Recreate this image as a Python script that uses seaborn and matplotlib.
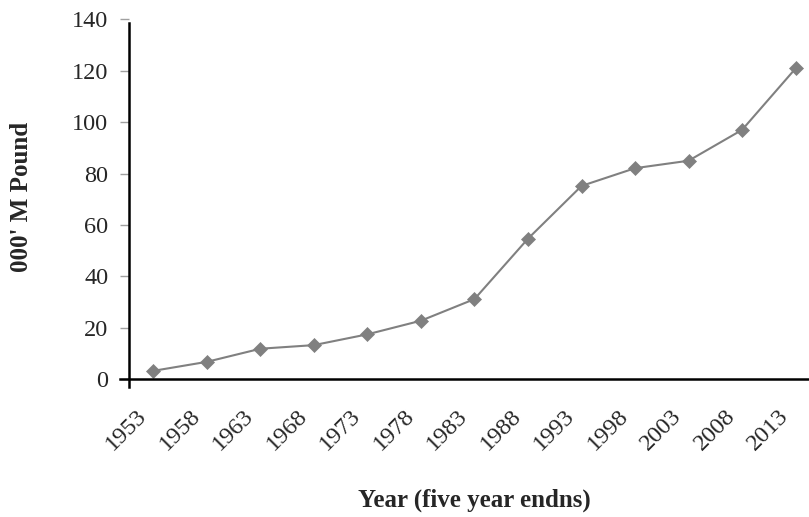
import seaborn as sns
import pandas as pd
import matplotlib.pyplot as plt
import matplotlib.transforms as mtransforms

# values
years = ["1953", "1958", "1963", "1968", "1973", "1978", "1983",
         "1988", "1993", "1998", "2003", "2008", "2013"]
pounds = [3.3, 6.8, 11.9, 13.3, 17.5, 22.8, 31.2,
          54.7, 75.2, 82.1, 85.0, 97.0, 120.9]
y_ticks = [0, 20, 40, 60, 80, 100, 120, 140]

data = pd.DataFrame({"year": years, "pound": pounds})

sns.set_style("white")
plt.rcParams["font.family"] = ["Liberation Serif", "DejaVu Serif"]

fig = plt.figure(figsize=(8.09, 5.17), dpi=100)
ax = fig.add_axes([0.1598, 0.2663, 0.8402, 0.6964])

# line with diamond markers
sns.lineplot(x="year", y="pound", data=data, ax=ax, color="#808080",
             linewidth=1.5, marker="D", markersize=7, markeredgewidth=0.5,
             markeredgecolor="#808080", markerfacecolor="#808080")

ax.set_xlim(-0.45, 12.25)
ax.set_ylim(0, 140)
ax.set_yticks(y_ticks)
ax.set_xticks(range(len(years)))
ax.set_xticklabels(years, rotation=45, ha="right", va="center",
                   rotation_mode="anchor")

ax.tick_params(axis="y", direction="out", length=6.5, width=1,
               color="#a0a0a0", pad=8.5, labelsize=17.5, left=True)
ax.tick_params(axis="x", length=0, pad=24, labelsize=17.5)

# nudge the slanted year labels a bit to the left, like the original
shift = mtransforms.ScaledTranslation(-10 / 100, 0, fig.dpi_scale_trans)
for lab in ax.get_xticklabels():
    lab.set_transform(lab.get_transform() + shift)

for side in ["top", "right"]:
    ax.spines[side].set_visible(False)
ax.spines["left"].set_color("black")
ax.spines["left"].set_linewidth(1.8)
ax.spines["left"].set_bounds(-2.8, 138.7)
ax.spines["bottom"].set_color("black")
ax.spines["bottom"].set_linewidth(1.8)
ax.spines["bottom"].set_bounds(-0.62, 12.25)

ax.set_xlabel("Year (five year endns)", fontsize=18, fontweight="bold",
              va="center")
ax.set_ylabel("000' M Pound", fontsize=18, fontweight="bold")
ax.xaxis.set_label_coords(0.507, -0.336)
ax.yaxis.set_label_coords(-0.141, 0.506)

fig.savefig("out.png", dpi=100)
